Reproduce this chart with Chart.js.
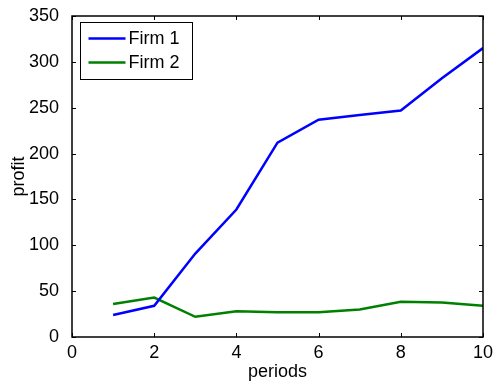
<!DOCTYPE html>
<html>
  <head>
    <title>Profit by period</title>
    <script src="https://cdn.jsdelivr.net/npm/chart.js"></script>
    <style>
      body {
        margin: 0;
        background-color: #ffffff;
      }
      #wrap {
        width: 494px;
        height: 385px;
      }
    </style>
  </head>
  <body>
    <div id="wrap">
      <canvas id="profitChart" width="494" height="385"></canvas>
    </div>

    <script>
      const periods = [1, 2, 3, 4, 5, 6, 7, 8, 9, 10];
      const firm1Profit = [24, 34, 91, 139, 212, 237, 242, 247, 282, 315];
      const firm2Profit = [36, 43, 22, 28, 27, 27, 30, 38.5, 37.5, 34];
      const seriesNames = ["Firm 1", "Firm 2"];

      const FONT = "Liberation Sans, Arial, sans-serif";
      const FONT_SIZE = 18;

      // box around plot + inward ticks, matlab style
      const boxPlugin = {
        id: "boxTicks",
        afterDatasetsDraw(chart) {
          const { ctx, chartArea: a, scales } = chart;
          ctx.save();
          ctx.strokeStyle = "#000";
          ctx.lineWidth = 1;
          ctx.beginPath();
          scales.x.ticks.forEach((t) => {
            const px = Math.round(scales.x.getPixelForValue(t.value)) + 0.5;
            ctx.moveTo(px, a.bottom);
            ctx.lineTo(px, a.bottom - 4);
            ctx.moveTo(px, a.top);
            ctx.lineTo(px, a.top + 4);
          });
          scales.y.ticks.forEach((t) => {
            const py = Math.round(scales.y.getPixelForValue(t.value)) + 0.5;
            ctx.moveTo(a.left, py);
            ctx.lineTo(a.left + 4, py);
            ctx.moveTo(a.right, py);
            ctx.lineTo(a.right - 4, py);
          });
          ctx.stroke();
          ctx.lineWidth = 1.5;
          ctx.strokeRect(a.left, a.top, a.right - a.left, a.bottom - a.top);

          // legend inside top-left
          const lx = a.left + 8.5;
          const ly = a.top + 6.5;
          const lw = 112;
          const lh = 57;
          ctx.fillStyle = "#fff";
          ctx.fillRect(lx, ly, lw, lh);
          ctx.lineWidth = 1;
          ctx.strokeRect(lx, ly, lw, lh);
          ctx.font = FONT_SIZE + "px " + FONT;
          ctx.textBaseline = "middle";
          chart.data.datasets.forEach((ds, i) => {
            const yy = ly + 16 + i * 24;
            ctx.strokeStyle = ds.borderColor;
            ctx.lineWidth = 2.5;
            ctx.beginPath();
            ctx.moveTo(lx + 8, yy);
            ctx.lineTo(lx + 45, yy);
            ctx.stroke();
            ctx.fillStyle = "#000";
            ctx.fillText(ds.label, lx + 48, yy + 1);
          });
          ctx.restore();
        },
      };

      const ctx = document.getElementById("profitChart").getContext("2d");

      new Chart(ctx, {
        type: "line",
        data: {
          labels: periods,
          datasets: [
            {
              label: seriesNames[0],
              data: periods.map((p, i) => ({ x: p, y: firm1Profit[i] })),
              borderColor: "#0000ff",
              borderWidth: 2.5,
              pointRadius: 0,
              tension: 0,
              fill: false,
            },
            {
              label: seriesNames[1],
              data: periods.map((p, i) => ({ x: p, y: firm2Profit[i] })),
              borderColor: "#008000",
              borderWidth: 2.5,
              pointRadius: 0,
              tension: 0,
              fill: false,
            },
          ],
        },
        options: {
          responsive: false,
          animation: false,
          layout: {
            padding: { top: 16, right: 11, left: 0, bottom: 0 },
          },
          plugins: {
            legend: { display: false },
            tooltip: { enabled: false },
          },
          scales: {
            x: {
              type: "linear",
              min: 0,
              max: 10,
              grid: { display: false },
              border: { display: false },
              ticks: {
                stepSize: 2,
                color: "#000",
                font: { family: FONT, size: FONT_SIZE },
                padding: -3,
                maxRotation: 0,
              },
              title: {
                display: true,
                text: "periods",
                color: "#000",
                font: { family: FONT, size: FONT_SIZE },
                padding: { top: 0, bottom: 2 },
              },
              afterFit(scale) {
                scale.height = 48;
              },
            },
            y: {
              min: 0,
              max: 350,
              grid: { display: false },
              border: { display: false },
              ticks: {
                stepSize: 50,
                color: "#000",
                font: { family: FONT, size: FONT_SIZE },
                padding: 5,
              },
              title: {
                display: true,
                text: "profit",
                color: "#000",
                font: { family: FONT, size: FONT_SIZE },
                padding: { top: 8, bottom: 0 },
              },
              afterFit(scale) {
                scale.width = 72;
              },
            },
          },
        },
        plugins: [boxPlugin],
      });
    </script>
  </body>
</html>
